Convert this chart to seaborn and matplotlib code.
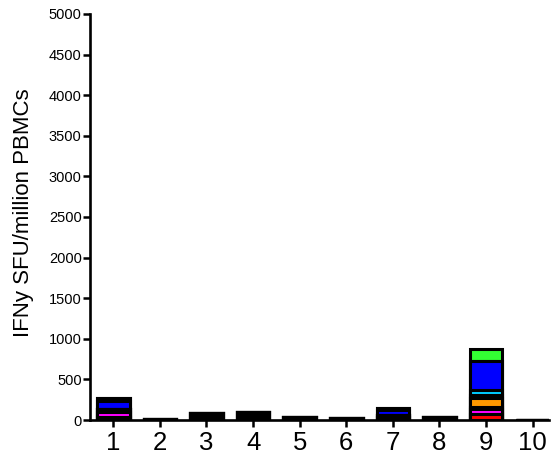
import matplotlib
matplotlib.use("Agg")
import matplotlib.pyplot as plt
import seaborn as sns
import numpy as np
import pandas as pd

sns.set_theme(style="white")
plt.rcParams['font.family'] = ['Liberation Sans', 'DejaVu Sans']

categories = ["1", "2", "3", "4", "5", "6", "7", "8", "9", "10"]
series_names = ["S1", "S2", "S3", "S4", "S5", "S6", "S7", "S8", "S9", "S10"]
series_colors = ["#FF0000", "#FF00FF", "#000000", "#FF9900", "#000000",
                 "#00CCFF", "#0000FF", "#000000", "#33FF33", "#000000"]
# values per series (bottom to top), one per category
s1 = [40, 0, 0, 0, 0, 0, 40, 0, 80, 0]      # red
s2 = [55, 0, 0, 0, 0, 0, 0, 0, 52, 0]       # magenta
s3 = [44, 10, 92, 95, 37, 21, 25, 37, 32, 5]  # black
s4 = [0, 0, 0, 0, 0, 0, 0, 0, 107, 0]       # orange
s5 = [0, 0, 0, 0, 0, 0, 0, 0, 41, 0]        # black
s6 = [0, 0, 0, 0, 0, 0, 0, 0, 58, 0]        # cyan
s7 = [99, 0, 0, 0, 0, 0, 58, 0, 357, 0]     # blue
s8 = [29, 0, 0, 0, 0, 0, 28, 0, 0, 0]       # black
s9 = [0, 0, 0, 0, 0, 0, 0, 0, 143, 0]       # green
s10 = [0, 0, 0, 0, 0, 0, 0, 0, 0, 0]        # black
series_values = [s1, s2, s3, s4, s5, s6, s7, s8, s9, s10]

yticks = [0, 500, 1000, 1500, 2000, 2500, 3000, 3500, 4000, 4500, 5000]

fig = plt.figure(figsize=(5.52, 4.62), dpi=100)
ax = fig.add_axes([90/552, 42/462, 459/552, 406/462])

cum = np.cumsum(np.array(series_values), axis=0)
for i in range(len(series_names) - 1, -1, -1):
    if np.all(np.array(series_values[i]) == 0):
        continue
    df = pd.DataFrame({"cat": categories, "val": cum[i]})
    sns.barplot(data=df, x="cat", y="val", color=series_colors[i],
                saturation=1, width=0.7, edgecolor="black", linewidth=2.2,
                ax=ax, order=categories, errorbar=None)

ax.set_xlim(-0.5, 9.35)
ax.set_ylim(0, 5000)
ax.set_yticks(yticks)
ax.set_yticklabels([str(t) for t in yticks], fontsize=10.5)
ax.set_xticks(range(len(categories)))
ax.set_xticklabels(categories, fontsize=18.5)
ax.set_xlabel("")
ax.set_ylabel("IFNy SFU/million PBMCs", fontsize=16, color="black")
ax.yaxis.set_label_coords(-0.122, 0.51)

for side in ["top", "right"]:
    ax.spines[side].set_visible(False)
for side in ["left", "bottom"]:
    ax.spines[side].set_linewidth(1.9)
    ax.spines[side].set_color("black")
ax.tick_params(axis="both", direction="out", length=5, width=1.8, color="black",
               left=True, bottom=True, labelcolor="black")
ax.tick_params(axis="y", pad=1)
ax.tick_params(axis="x", pad=3)

fig.savefig("out.png", dpi=100)
